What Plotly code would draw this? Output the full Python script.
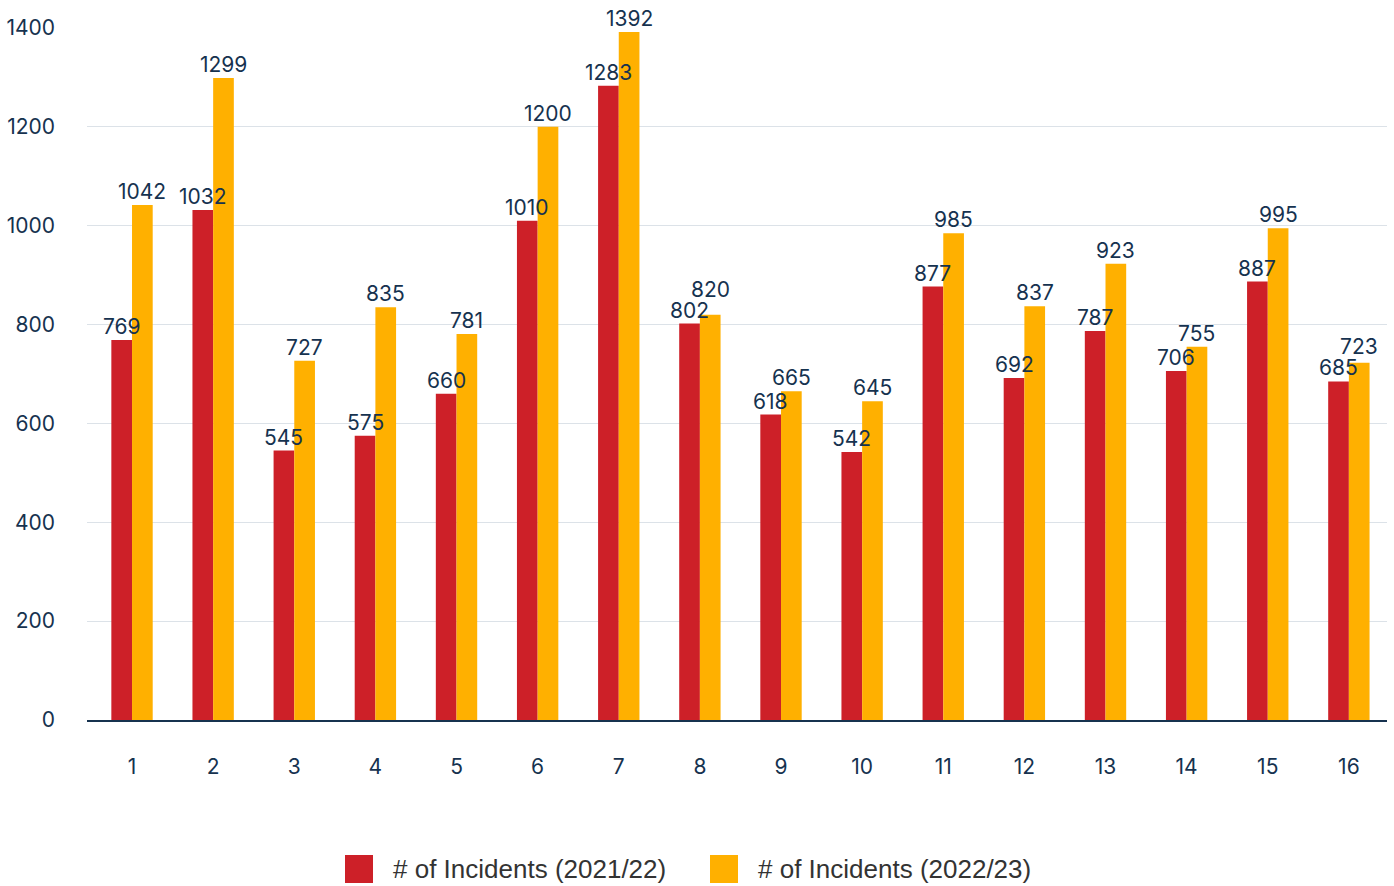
import plotly.graph_objects as go

categories = [str(i) for i in range(1, 17)]
incidents_2122 = [769, 1032, 545, 575, 660, 1010, 1283, 802, 618, 542, 877, 692, 787, 706, 887, 685]
incidents_2223 = [1042, 1299, 727, 835, 781, 1200, 1392, 820, 665, 645, 985, 837, 923, 755, 995, 723]
series_names = ["# of Incidents (2021/22)", "# of Incidents (2022/23)"]
y_ticks = [0, 200, 400, 600, 800, 1000, 1200, 1400]

RED = "#CD2028"
ORANGE = "#FFB000"
NAVY = "#16324F"
LABEL_FONT = "Inter, Lato, sans-serif"
Y_MAX = 1400
PLOT_H = 692          # plot area height in px (886 - top 28 - bottom 166)
PX_PER_UNIT = PLOT_H / Y_MAX
MIN_LABEL_GAP = 21    # px between stacked labels of the same pair

fig = go.Figure()
for name, vals, col in [(series_names[0], incidents_2122, RED),
                        (series_names[1], incidents_2223, ORANGE)]:
    fig.add_trace(go.Bar(
        x=categories, y=vals, name=name, marker_color=col, marker_line_width=0,
        showlegend=False,
    ))

# Value labels on top of all bars, shifted over their own bar in each pair
# (x given as the category's position index on the category axis).
# When two labels of a pair would collide, the taller bar's label is lifted.
for idx, (a, b) in enumerate(zip(incidents_2122, incidents_2223)):
    gap = abs(b - a) * PX_PER_UNIT
    lift = max(0.0, MIN_LABEL_GAP - gap)
    for v, shift, extra in [(a, -10.3, lift if a > b else 0),
                            (b, 10.3, lift if b >= a else 0)]:
        fig.add_annotation(x=idx, y=v, text=str(v), showarrow=False,
                           xanchor="center", yanchor="bottom", xshift=shift, yshift=extra,
                           borderpad=0,
                           font=dict(family=LABEL_FONT, size=21, color=NAVY))

fig.update_layout(
    width=1394, height=886,
    margin=dict(l=87, r=7, t=28, b=166),
    plot_bgcolor="white", paper_bgcolor="white",
    barmode="group", bargap=0.49, bargroupgap=0,
    font=dict(family=LABEL_FONT, color=NAVY, size=21),
    xaxis=dict(type="category", range=[-0.555, 15.47], showgrid=False, ticks="",
               showline=True, linecolor=NAVY, linewidth=1.5, ticklabelstandoff=27,
               automargin=False, tickfont=dict(size=21, color=NAVY)),
    yaxis=dict(range=[0, Y_MAX], tickvals=y_ticks, showgrid=True,
               gridcolor="#DCE2E8", gridwidth=1, zeroline=False,
               ticks="", ticklabelstandoff=31, automargin=False,
               tickfont=dict(size=21, color=NAVY)),
)

# Legend drawn as swatches and labels beneath the plot
legend_items = [(series_names[0], RED, 345), (series_names[1], ORANGE, 710)]
plot_w, left, top = 1300, 87, 28
for name, col, px in legend_items:
    x0 = (px - left) / plot_w
    x1 = (px + 28 - left) / plot_w
    y0 = (top + PLOT_H - 883) / PLOT_H
    y1 = (top + PLOT_H - 855) / PLOT_H
    fig.add_shape(type="rect", xref="paper", yref="paper", x0=x0, x1=x1, y0=y0, y1=y1,
                  fillcolor=col, line_width=0)
    fig.add_annotation(xref="paper", yref="paper", x=(px + 46 - left) / plot_w,
                       y=(y0 + y1) / 2, text=name, showarrow=False,
                       xanchor="left", yanchor="middle",
                       font=dict(family="Liberation Sans Narrow, Liberation Sans, Arial", size=26,
                                 color="#333333"))

fig.write_html("out.html")
